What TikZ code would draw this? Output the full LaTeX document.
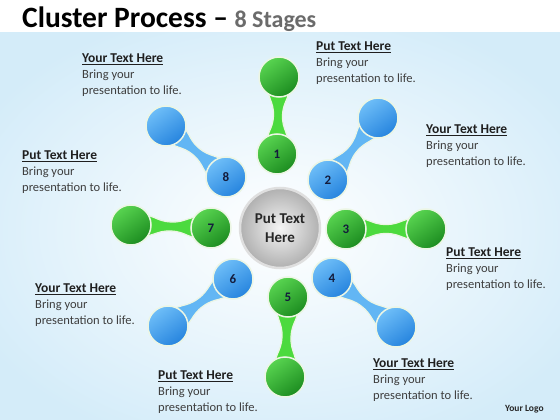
\documentclass[tikz,border=0pt]{standalone}
\usepackage{fontspec}
\setmainfont{Carlito}
\usetikzlibrary{calc,backgrounds}

\definecolor{greenlt}{RGB}{88,212,80}
\definecolor{greendk}{RGB}{28,140,32}
\definecolor{greenneck}{RGB}{76,218,62}
\definecolor{bluelt}{RGB}{110,190,248}
\definecolor{bluedk}{RGB}{38,132,222}
\definecolor{blueneck}{RGB}{98,182,244}
\definecolor{numtext}{RGB}{20,28,60}
\definecolor{bodytext}{RGB}{62,62,62}
\definecolor{bgblue}{RGB}{212,236,249}
\definecolor{halo}{RGB}{236,246,228}

\tikzset{
  ball/.style={circle, minimum size=40pt, inner sep=0pt, draw=halo, line width=1.5pt,
    font=\fontsize{13}{13}\selectfont\bfseries, text=numtext},
  greenball/.style={ball, top color=greenlt, bottom color=greendk, shading angle=35},
  blueball/.style={ball, top color=bluelt, bottom color=bluedk, shading angle=35},
  hubball/.style={circle, minimum size=80pt, inner sep=0pt, draw=gray!25, line width=2.5pt,
    inner color=gray!8, outer color=gray!62, align=center,
    font=\fontsize{15}{19}\selectfont\bfseries, text=black!85},
  greenneck/.style={fill=greenneck, draw=halo, line width=1.2pt},
  blueneck/.style={fill=blueneck, draw=halo, line width=1.2pt},
  note/.style={anchor=north west, inner sep=0pt, align=left, text=bodytext,
    font=\fontsize{12.5}{16}\selectfont},
}

% heading + two body lines of a text block
\newcommand\notetext[1]{{\fontsize{13.5}{16}\selectfont\bfseries\color{black!88}\underline{#1}}\\Bring your\\presentation to life.}

% tapered neck between two balls: #1 from, #2 to, #3 style
\newcommand\neck[3]{%
  \path let \p1=($(#2.center)-(#1.center)$) in
    \pgfextra{\pgfmathsetmacro\necklen{veclen(\x1,\y1)}\pgfmathsetmacro\neckang{atan2(\y1,\x1)}%
      \xdef\gnecklen{\necklen}\xdef\gneckang{\neckang}};
  \begin{scope}[shift={(#1.center)}, rotate=\gneckang]
    \path[#3] (0,-12) .. controls ({0.3*\gnecklen},-12) and ({0.3*\gnecklen},-4.5) .. ({0.5*\gnecklen},-4.5)
      .. controls ({0.7*\gnecklen},-4.5) and ({0.7*\gnecklen},-12) .. (\gnecklen,-12)
      -- (\gnecklen,12) .. controls ({0.7*\gnecklen},12) and ({0.7*\gnecklen},4.5) .. ({0.5*\gnecklen},4.5)
      .. controls ({0.3*\gnecklen},4.5) and ({0.3*\gnecklen},12) .. (0,12) -- cycle;
  \end{scope}
}

\begin{document}
\begin{tikzpicture}[x=1pt,y=-1pt]
  \useasboundingbox (0,0) rectangle (560,420);

  % Title
  \node[anchor=base west, inner sep=0pt] (title) at (22,28)
    {\fontsize{29.5}{30}\selectfont\bfseries Cluster Process \textcolor{black}{–} \textcolor{black!58}{\fontsize{24}{24}\selectfont 8 Stages}};

  %Shape: Circle (hub)
  \node[hubball] (hub) at (280,228) {Put Text\\Here};

  %Shape: Circles (inner ring, numbered)
  \node[greenball] (i1) at (277,154) {1};
  \node[blueball]  (i2) at (328,180) {2};
  \node[greenball] (i3) at (346,229) {3};
  \node[blueball]  (i4) at (332,278) {4};
  \node[greenball] (i5) at (288,297) {5};
  \node[blueball]  (i6) at (233,279) {6};
  \node[greenball] (i7) at (211,228) {7};
  \node[blueball]  (i8) at (226,177) {8};

  %Shape: Circles (outer ring)
  \node[greenball] (o1) at (279,77) {};
  \node[blueball]  (o2) at (378,118) {};
  \node[greenball] (o3) at (426,229) {};
  \node[blueball]  (o4) at (396,327) {};
  \node[greenball] (o5) at (285,377) {};
  \node[blueball]  (o6) at (168,326) {};
  \node[greenball] (o7) at (131,225) {};
  \node[blueball]  (o8) at (166,126) {};

  \begin{pgfonlayer}{background}
    % backdrop
    \fill[white] (0,0) rectangle (560,420);
    \begin{scope}
      \clip (0,33) rectangle (560,420);
      \shade[inner color=white, outer color=bgblue] (-60,0) rectangle (620,460);
    \end{scope}
    % necks
    \neck{i1}{o1}{greenneck}
    \neck{i2}{o2}{blueneck}
    \neck{i3}{o3}{greenneck}
    \neck{i4}{o4}{blueneck}
    \neck{i5}{o5}{greenneck}
    \neck{i6}{o6}{blueneck}
    \neck{i7}{o7}{greenneck}
    \neck{i8}{o8}{blueneck}
  \end{pgfonlayer}

  % Text Node
  \node[note] (t8) at (82,54) {\notetext{Your Text Here}};
  % Text Node
  \node[note] (t1) at (316,42) {\notetext{Put Text Here}};
  % Text Node
  \node[note] (t2) at (426,125) {\notetext{Your Text Here}};
  % Text Node
  \node[note] (t7) at (22,151) {\notetext{Put Text Here}};
  % Text Node
  \node[note] (t3) at (446,248) {\notetext{Put Text Here}};
  % Text Node
  \node[note] (t6) at (35,284) {\notetext{Your Text Here}};
  % Text Node
  \node[note] (t5) at (158,371) {\notetext{Put Text Here}};
  % Text Node
  \node[note] (t4) at (373,359) {\notetext{Your Text Here}};
  % Text Node
  \node[anchor=base west, inner sep=0pt, font=\fontsize{9.5}{9.5}\selectfont\bfseries, text=black!85] (logo) at (505,411) {Your Logo};
\end{tikzpicture}
\end{document}
